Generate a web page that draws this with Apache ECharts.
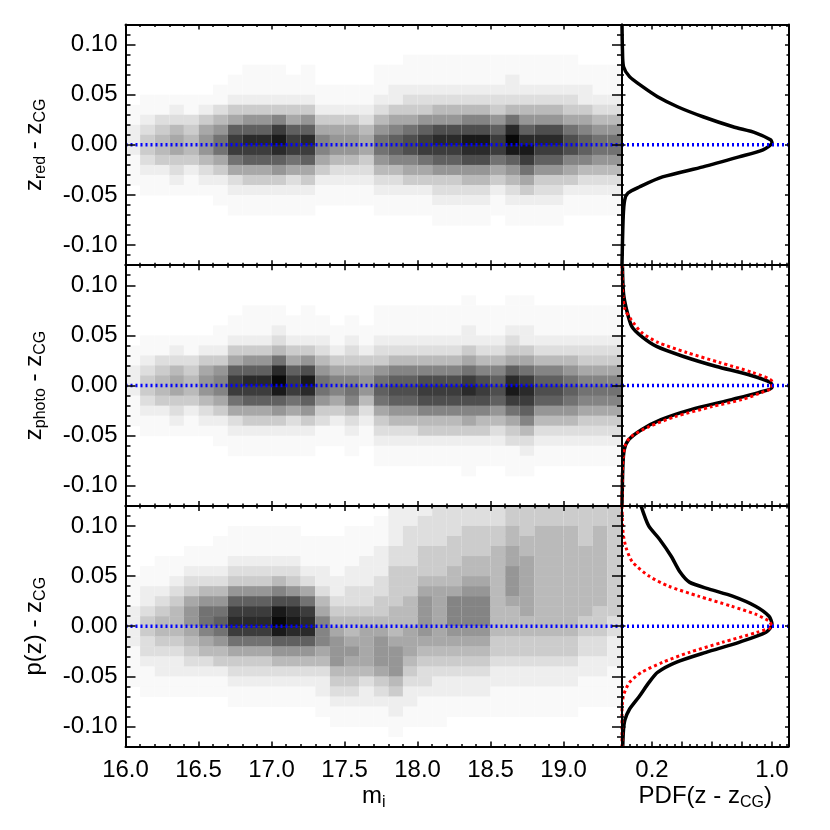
<!DOCTYPE html>
<html>
<head>
<meta charset="utf-8">
<script src="https://cdn.jsdelivr.net/npm/echarts@6/dist/echarts.min.js"></script>
<style>
html, body { margin: 0; padding: 0; background: #fff; }
#chart { width: 830px; height: 830px; }
</style>
</head>
<body>
<div id="chart"></div>
<script>
// left edge of each 0.1 mag column
var magBins = [16.0, 16.1, 16.2, 16.3, 16.4, 16.5, 16.6, 16.7, 16.8, 16.9,
  17.0, 17.1, 17.2, 17.3, 17.4, 17.5, 17.6, 17.7, 17.8, 17.9,
  18.0, 18.1, 18.2, 18.3, 18.4, 18.5, 18.6, 18.7, 18.8, 18.9,
  19.0, 19.1, 19.2, 19.3];
// centre of each z bin, top to bottom
var zBins = [0.115, 0.105, 0.095, 0.085, 0.075, 0.065, 0.055, 0.045, 0.035, 0.025, 0.015, 0.005,
  -0.005, -0.015, -0.025, -0.035, -0.045, -0.055, -0.065, -0.075, -0.085, -0.095, -0.105, -0.115];

var magTicks = [16.0, 16.5, 17.0, 17.5, 18.0, 18.5, 19.0];
var zTicks = [-0.10, -0.05, 0.00, 0.05, 0.10];
var pdfTicks = [0.2, 1.0];

// grey level of every cell (hex digit, 0 = white .. f = black), one string per mag column
var zredCols = [
  "000000001122211100000000", "000000011234432110000000", "000000011345542110000000",
  "000000012356643210000000", "000000011345542110000000", "000000012467753210000000",
  "000000113579964211000000", "0000011246acc96321100000", "0000111247adca6421100000",
  "0000111247adca6421100000", "0000111248ceda7421100000", "0000011246acc96321100000",
  "0000111247adca6421100000", "000000112468864211000000", "000000112467753211000000",
  "000000112467753211000000", "000000112356643211000000", "000011123579975321100000",
  "00001122468aa85321100000", "00011123469bb86421100000", "0001112347acc96421100000",
  "0001112357bdca7432110000", "0001112357bdca7432110000", "0001112358bedb7532110000",
  "0001112358bedb7532110000", "0001112347acc96421100000", "0001122359dfea7532110000",
  "0001112357adec9642110000", "0001112357bdca7432110000", "0001112357bdca7432110000",
  "00011123469bb86421100000", "00001122468aa85321100000", "000011123579975321100000",
  "000011123579975321100000"
];
var zphotoCols = [
  "000000001122211100000000", "000000011234432110000000", "000000011345542110000000",
  "000000012356643210000000", "000000011345542110000000", "000000012467753210000000",
  "000000112478864211000000", "0000011246acc96321100000", "0000111247adca6421100000",
  "0000111247adca6421100000", "0000112359dfea7421100000", "0000011246acc96321100000",
  "0000111247beda7421100000", "000001123579974311000000", "000000112468864211000000",
  "000001123468985321100000", "000000112467753211000000", "000011123479a96432110000",
  "00001112358aba7532110000", "00001112358aba7532110000", "00001112358bcb8542110000",
  "00001112358bcb8542110000", "00001112358bcb8542110000", "00011122469cdb8642111000",
  "00001112358bcb8542110000", "00001112358aba7532110000", "0001112346adec9643111000",
  "00011122469cdca853211000", "00001112358aba7532110000", "00001112358aba7532110000",
  "000011123579a97532110000", "000011123468986432110000", "000011123468986432110000",
  "000011123468986432110000"
];
var pzCols = [
  "000000011122221111000000", "000000112234433211100000", "000001112345543221100000",
  "000001123455543221100000", "000011234677654321100000", "000011235799865321100000",
  "00011123579a975421100000", "001112347acdc96432110000", "001112347acdc96432110000",
  "001112347acdc96432110000", "001112358befea7532110000", "001112347bdeda7532110000",
  "0001112369cdda7532110000", "000111223568886532211000", "000111122345677754321100",
  "001111223345567654321100", "001112223345666653221100", "011122233445677764321100",
  "222233444455567775422110", "223333444555666543221100", "233344456777765433211100",
  "333344456666665432211100", "333444556888765432211000", "334445567888765432211000",
  "334445567888765432211000", "334455555555544322111000", "445566777655544322111000",
  "444556666665544322111000", "445555555555544322111000", "445555555555544322111000",
  "445555555555544322111000", "444455555554433221110000", "445555555544433221110000",
  "444444444443322211110000"
];

// PDF curves as [pdf, z]
var zredPdf = [[0.000, 0.120], [0.003, 0.095], [0.010, 0.078], [0.050, 0.068], [0.137, 0.058],
  [0.237, 0.048], [0.370, 0.038], [0.540, 0.028], [0.740, 0.018], [0.890, 0.012], [0.990, 0.005],
  [1.000, 0.002], [0.940, -0.005], [0.780, -0.012], [0.540, -0.022], [0.270, -0.032],
  [0.115, -0.042], [0.040, -0.048], [0.018, -0.055], [0.008, -0.072], [0.000, -0.120]];
var zphotoPdf = [[0.003, 0.119], [0.010, 0.092], [0.030, 0.076], [0.065, 0.059], [0.130, 0.049],
  [0.230, 0.039], [0.410, 0.029], [0.630, 0.019], [0.840, 0.011], [0.990, 0.003], [1.000, -0.002],
  [0.910, -0.007], [0.730, -0.014], [0.460, -0.024], [0.260, -0.034], [0.130, -0.044],
  [0.045, -0.054], [0.015, -0.064], [0.006, -0.080], [0.000, -0.120]];
var zphotoRedPdf = [[0.000, 0.120], [0.005, 0.092], [0.020, 0.076], [0.060, 0.066], [0.130, 0.053],
  [0.240, 0.043], [0.430, 0.033], [0.650, 0.023], [0.870, 0.013], [1.000, 0.004], [1.000, -0.002],
  [0.930, -0.007], [0.800, -0.014], [0.600, -0.021], [0.355, -0.031], [0.180, -0.041],
  [0.060, -0.051], [0.020, -0.060], [0.004, -0.080], [0.000, -0.120]];
var pzPdf = [[0.127, 0.120], [0.178, 0.100], [0.249, 0.087], [0.327, 0.070], [0.387, 0.054],
  [0.449, 0.044], [0.582, 0.037], [0.737, 0.030], [0.890, 0.020], [0.980, 0.010], [1.000, 0.002],
  [0.960, -0.006], [0.780, -0.016], [0.560, -0.026], [0.360, -0.036], [0.237, -0.046],
  [0.180, -0.056], [0.115, -0.070], [0.049, -0.083], [0.020, -0.093], [0.010, -0.103],
  [0.005, -0.120]];
var pzRedPdf = [[0.000, 0.120], [0.003, 0.103], [0.010, 0.090], [0.030, 0.077], [0.070, 0.064],
  [0.180, 0.050], [0.310, 0.040], [0.510, 0.030], [0.730, 0.020], [0.890, 0.012], [0.980, 0.005],
  [1.000, 0.000], [0.900, -0.006], [0.670, -0.016], [0.450, -0.026], [0.270, -0.036],
  [0.130, -0.046], [0.050, -0.056], [0.010, -0.069], [0.000, -0.085], [0.000, -0.120]];

var yNames = ['{m|z}{s|red}{m| - z}{s|CG}', '{m|z}{s|photo}{m| - z}{s|CG}', '{m|p(z) - z}{s|CG}'];

// grey value used for each level 0..f
var GREY = [255, 249, 238, 222, 204, 186, 168, 150, 132, 114, 96, 78, 60, 42, 25, 8];

var PANEL_TOP = [24.5, 265.2, 505.9];
var PANEL_H = 240.7;
var FONT = '"Liberation Sans", Arial, Helvetica, sans-serif';
var RICH = {
  m: { fontSize: 24, fontFamily: FONT, color: '#000', verticalAlign: 'middle' },
  s: { fontSize: 16, fontFamily: FONT, color: '#000', verticalAlign: 'middle', padding: [12, 0, 0, 0] }
};
var BLK = { color: '#000', width: 2 };
var TCK = { color: '#000', width: 1.5 };

function inList(v, list) {
  for (var i = 0; i < list.length; i++) if (Math.abs(v - list[i]) < 1e-6) return true;
  return false;
}

function xAxes(g, o) {
  function mk(pos, labels) {
    return {
      gridIndex: g, type: 'value', position: pos, min: o.min, max: o.max, interval: o.interval, z: 10,
      axisLine: { show: true, onZero: false, lineStyle: BLK },
      axisTick: { show: true, inside: true, length: 5, lineStyle: TCK },
      minorTick: { show: true, splitNumber: o.split, length: 2.5, lineStyle: TCK },
      splitLine: { show: false }, minorSplitLine: { show: false },
      axisLabel: {
        show: labels, margin: 12, fontSize: 24, fontFamily: FONT, color: '#000',
        formatter: function (v) { return inList(v, o.ticks) ? v.toFixed(1) : ''; }
      },
      name: labels ? o.name : '', nameLocation: 'middle', nameGap: 36,
      nameTextStyle: { fontSize: 24, fontFamily: FONT, color: '#000', rich: RICH }
    };
  }
  return [mk('bottom', o.labels), mk('top', false)];
}

function yAxes(g, o) {
  function mk(pos, major, labels) {
    var a = {
      gridIndex: g, type: 'value', position: pos, min: -0.12, max: 0.12, interval: 0.01, z: 10,
      axisLine: { show: !major, onZero: false, lineStyle: BLK },
      axisTick: { show: true, inside: true, length: major ? o.major : o.minor, lineStyle: TCK },
      splitLine: { show: false },
      axisLabel: {
        show: labels, margin: 8, fontSize: 24, fontFamily: FONT, color: '#000',
        formatter: function (v) {
          if (Math.abs(v) < 1e-9) v = 0;
          return inList(v, zTicks) ? v.toFixed(2) : '';
        }
      },
      name: labels ? o.name : '', nameLocation: 'middle', nameGap: 77, nameRotate: 90,
      nameTextStyle: { fontSize: 24, fontFamily: FONT, color: '#000', rich: RICH }
    };
    if (major) a.axisTick.customValues = zTicks;
    return a;
  }
  return [mk('left', false, o.labels), mk('left', true, false), mk('right', false, false), mk('right', true, false)];
}

function cells(cols) {
  var out = [];
  cols.forEach(function (col, k) {
    for (var r = 0; r < zBins.length; r++) {
      var v = parseInt(col.charAt(r), 16);
      if (v > 0) out.push([magBins[k], zBins[r], v]);
    }
  });
  return out;
}

function renderCell(params, api) {
  var x = api.value(0), z = api.value(1), v = api.value(2);
  var a = api.coord([x, z + 0.005]);
  var b = api.coord([x + 0.1, z - 0.005]);
  var g = GREY[v];
  return {
    type: 'rect',
    shape: { x: a[0], y: a[1], width: b[0] - a[0], height: b[1] - a[1] + 0.5 },
    style: { fill: 'rgb(' + g + ',' + g + ',' + g + ')' }
  };
}

var heatCols = [zredCols, zphotoCols, pzCols];
var blackPdf = [zredPdf, zphotoPdf, pzPdf];
var redPdf = [null, zphotoRedPdf, pzRedPdf];
var dotBlue = { color: '#0000ff', width: 3.5, type: [2, 3] };

var grids = [], xs = [], ys = [], series = [];
PANEL_TOP.forEach(function (t, p) {
  var last = p === 2;
  var gl = 2 * p, gr = 2 * p + 1;
  grids.push({ left: 125.5, top: t, width: 496.5, height: PANEL_H });
  grids.push({ left: 622, top: t, width: 166.5, height: PANEL_H });

  xs = xs.concat(xAxes(gl, { min: 16.0, max: 19.4, interval: 0.5, split: 5, ticks: magTicks,
    labels: last, name: '{m|m}{s|i}' }));
  xs = xs.concat(xAxes(gr, { min: 0, max: 1.11, interval: 0.2, split: 4, ticks: pdfTicks,
    labels: last, name: '{m|PDF(z - z}{s|CG}{m|)}' }));
  ys = ys.concat(yAxes(gl, { major: 10, minor: 5, labels: true, name: yNames[p] }));
  ys = ys.concat(yAxes(gr, { major: 3.5, minor: 2, labels: false }));

  var xl = 2 * gl, xr = 2 * gr, yl = 4 * gl, yr = 4 * gr;
  series.push({
    type: 'custom', xAxisIndex: xl, yAxisIndex: yl, renderItem: renderCell,
    data: cells(heatCols[p]), z: 1, silent: true
  });
  series.push({
    type: 'line', xAxisIndex: xr, yAxisIndex: yr, data: blackPdf[p], symbol: 'none', smooth: 0.25,
    lineStyle: { color: '#000', width: 3.5 }, z: 3
  });
  if (redPdf[p]) {
    series.push({
      type: 'line', xAxisIndex: xr, yAxisIndex: yr, data: redPdf[p], symbol: 'none', smooth: 0.25,
      lineStyle: { color: '#ff0000', width: 3, type: [3, 3] }, z: 4
    });
  }
  series.push({
    type: 'line', xAxisIndex: xl, yAxisIndex: yl, data: [[16.0, 0], [19.4, 0]], symbol: 'none',
    lineStyle: dotBlue, z: 5
  });
  series.push({
    type: 'line', xAxisIndex: xr, yAxisIndex: yr, data: [[0, 0], [1.11, 0]], symbol: 'none',
    lineStyle: dotBlue, z: 5
  });
});

var chart = echarts.init(document.getElementById('chart'));
chart.setOption({
  animation: false,
  backgroundColor: '#fff',
  grid: grids,
  xAxis: xs,
  yAxis: ys,
  series: series
});
</script>
</body>
</html>
